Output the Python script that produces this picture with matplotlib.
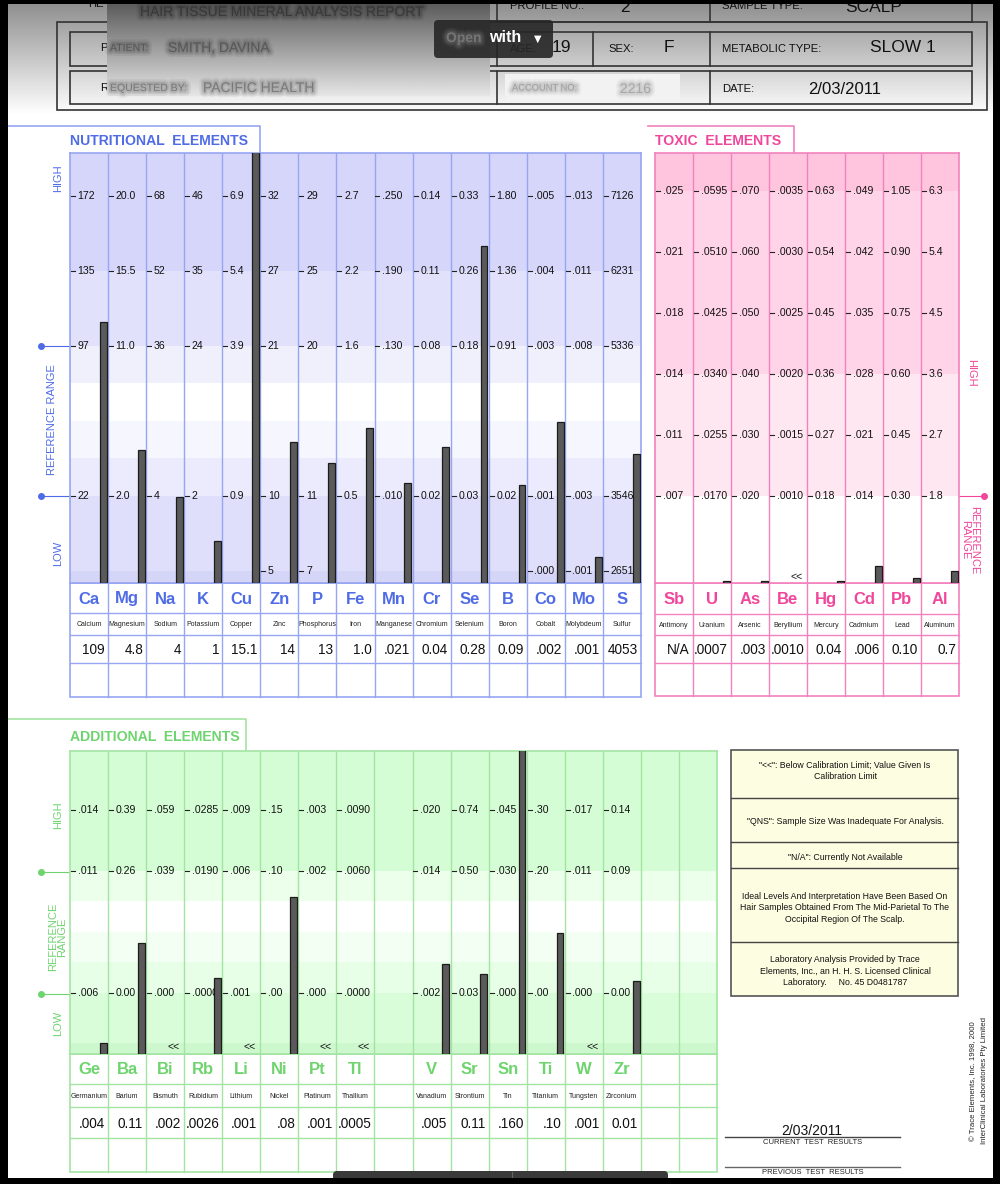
import numpy as np
import matplotlib
matplotlib.use('Agg')
import matplotlib.pyplot as plt
from matplotlib import font_manager
from matplotlib import patheffects as pe
from matplotlib.patches import Rectangle, FancyBboxPatch

W, H = 1000, 1184

# ---------------- data ----------------
nutr_symbols = ['Ca', 'Mg', 'Na', 'K', 'Cu', 'Zn', 'P', 'Fe', 'Mn', 'Cr', 'Se', 'B', 'Co', 'Mo', 'S']
nutr_names = ['Calcium', 'Magnesium', 'Sodium', 'Potassium', 'Copper', 'Zinc', 'Phosphorus', 'Iron',
              'Manganese', 'Chromium', 'Selenium', 'Boron', 'Cobalt', 'Molybdeum', 'Sulfur']
nutr_results = ['109', '4.8', '4', '1', '15.1', '14', '13', '1.0', '.021', '0.04', '0.28', '0.09',
                '.002', '.001', '4053']
# bar tops on the chart's level scale (level 1 = lower reference line, 3 = upper reference line)
nutr_bar_levels = [3.32, 1.61, 0.99, 0.40, 5.7, 1.72, 1.44, 1.91, 1.17, 1.65, 4.33, 1.15, 1.99, 0.19, 1.56]
nutr_tick_levels = [5, 4, 3, 1, 0]
nutr_tick_labels = [
    ['172', '135', '97', '22', None], ['20.0', '15.5', '11.0', '2.0', None], ['68', '52', '36', '4', None],
    ['46', '35', '24', '2', None], ['6.9', '5.4', '3.9', '0.9', None], ['32', '27', '21', '10', '5'],
    ['29', '25', '20', '11', '7'], ['2.7', '2.2', '1.6', '0.5', None], ['.250', '.190', '.130', '.010', None],
    ['0.14', '0.11', '0.08', '0.02', None], ['0.33', '0.26', '0.18', '0.03', None],
    ['1.80', '1.36', '0.91', '0.02', None], ['.005', '.004', '.003', '.001', '.000'],
    ['.013', '.011', '.008', '.003', '.001'], ['7126', '6231', '5336', '3546', '2651']]

tox_symbols = ['Sb', 'U', 'As', 'Be', 'Hg', 'Cd', 'Pb', 'Al']
tox_names = ['Antimony', 'Uranium', 'Arsenic', 'Beryllium', 'Mercury', 'Cadmium', 'Lead', 'Aluminum']
tox_results = ['N/A', '.0007', '.003', '.0010', '0.04', '.006', '0.10', '0.7']
tox_bar_levels = [None, -0.40, -0.40, None, -0.40, -0.15, -0.34, -0.23]
tox_below_cal = [False, False, False, True, False, False, False, False]
tox_tick_levels = [6, 5, 4, 3, 2, 1]
tox_tick_labels = [
    ['.025', '.021', '.018', '.014', '.011', '.007'], ['.0595', '.0510', '.0425', '.0340', '.0255', '.0170'],
    ['.070', '.060', '.050', '.040', '.030', '.020'], ['.0035', '.0030', '.0025', '.0020', '.0015', '.0010'],
    ['0.63', '0.54', '0.45', '0.36', '0.27', '0.18'], ['.049', '.042', '.035', '.028', '.021', '.014'],
    ['1.05', '0.90', '0.75', '0.60', '0.45', '0.30'], ['6.3', '5.4', '4.5', '3.6', '2.7', '1.8']]

add_symbols = ['Ge', 'Ba', 'Bi', 'Rb', 'Li', 'Ni', 'Pt', 'Tl', '', 'V', 'Sr', 'Sn', 'Ti', 'W', 'Zr', '', '']
add_names = ['Germanium', 'Barium', 'Bismuth', 'Rubidium', 'Lithium', 'Nickel', 'Platinum', 'Thallium', '',
             'Vanadium', 'Strontium', 'Tin', 'Titanium', 'Tungsten', 'Zirconium', '', '']
add_results = ['.004', '0.11', '.002', '.0026', '.001', '.08', '.001', '.0005', '', '.005', '0.11', '.160',
               '.10', '.001', '0.01', '', '']
add_bar_levels = [0.18, 1.82, None, 1.25, None, 2.57, None, None, None, 1.48, 1.31, 5.2, 1.98, None, 1.20,
                  None, None]
add_below_cal = [False, False, True, False, True, False, True, True, False, False, False, False, False,
                 True, False, False, False]
add_tick_levels = [4, 3, 1]
add_tick_labels = [
    ['.014', '.011', '.006'], ['0.39', '0.26', '0.00'], ['.059', '.039', '.000'], ['.0285', '.0190', '.0000'],
    ['.009', '.006', '.001'], ['.15', '.10', '.00'], ['.003', '.002', '.000'], ['.0090', '.0060', '.0000'],
    [None, None, None], ['.020', '.014', '.002'], ['0.74', '0.50', '0.03'], ['.045', '.030', '.000'],
    ['.30', '.20', '.00'], ['.017', '.011', '.000'], ['0.14', '0.09', '0.00'], [None, None, None],
    [None, None, None]]

legend_notes = ['"<<": Below Calibration Limit; Value Given Is\nCalibration Limit',
                '"QNS": Sample Size Was Inadequate For Analysis.',
                '"N/A": Currently Not Available',
                'Ideal Levels And Interpretation Have Been Based On\nHair Samples Obtained From The Mid-Parietal To The\nOccipital Region Of The Scalp.',
                'Laboratory Analysis Provided by Trace\nElements, Inc., an H. H. S. Licensed Clinical\nLaboratory.     No. 45 D0481787']

# ---------------- fonts ----------------
_names = {f.name for f in font_manager.fontManager.ttflist}
HAS_NARROW = 'Liberation Sans Narrow' in _names
NARROW = ['Liberation Sans Narrow', 'DejaVu Sans'] if HAS_NARROW else ['Liberation Sans', 'DejaVu Sans']
NS = 1.0 if HAS_NARROW else 0.84
SYM_SIZE = 13.5 if HAS_NARROW else 12
plt.rcParams['font.family'] = ['Liberation Sans', 'DejaVu Sans']

NUT_LINE, NUT_TXT = '#97a5f2', '#4f6ce6'
TOX_LINE, TOX_TXT = '#f282bd', '#f0469b'
ADD_LINE, ADD_TXT = '#a3e4a3', '#6ed46e'

fig = plt.figure(figsize=(10, 11.84), dpi=100)
ax0 = fig.add_axes([0, 0, 1, 1])
ax0.set_facecolor('white')


def inset(x0, y0, x1, y1):
    return fig.add_axes([x0 / W, 1 - y1 / H, (x1 - x0) / W, (y1 - y0) / H])


def panel(x0, x1, ytop, ybot, ncols, lo, hi, bands, line_c, bar_levels, tick_levels, tick_labels,
          below_cal, lt_level):
    ax = inset(x0, ytop, x1, ybot)
    ax.set_xlim(0, ncols)
    ax.set_ylim(lo, hi)
    ax.set_xticks([])
    ax.set_yticks([])
    ax.set_facecolor('white')
    for b0, b1, c in bands:
        ax.axhspan(b0, b1, color=c, lw=0, zorder=0)
    for i in range(1, ncols):
        ax.axvline(i, color=line_c, lw=1, zorder=1)
    for s in ax.spines.values():
        s.set_color(line_c)
        s.set_linewidth(1.2)
    for i, labs in enumerate(tick_labels):
        for lev, lab in zip(tick_levels, labs):
            if lab is None:
                continue
            ax.plot([i + 0.025, i + 0.13], [lev, lev], color='#222222', lw=0.8, zorder=2)
            ax.text(i + 0.2, lev, lab, ha='left', va='center', fontsize=7.6, color='#111111', zorder=2)
    idx = [i for i, v in enumerate(bar_levels) if v is not None]
    vals = np.array([bar_levels[i] for i in idx], dtype=float)
    ax.bar(np.array(idx) + 0.875, vals - lo, bottom=lo, width=0.18, color='#5a5a5a',
           edgecolor='#1c1c1c', lw=0.9, zorder=3)
    for i, b in enumerate(below_cal):
        if b:
            ax.text(i + 0.72, lt_level, '<<', ha='center', va='center', fontsize=7.5, color='#111111',
                    zorder=4)
    return ax


def table(x0, x1, ncols, rows, line_c, sym_c, symbols, names, results):
    cw = (x1 - x0) / ncols
    ax0.add_patch(Rectangle((x0, rows[0]), x1 - x0, rows[-1] - rows[0], fill=False, ec=line_c, lw=1.2))
    for y in rows[1:-1]:
        ax0.plot([x0, x1], [y, y], color=line_c, lw=1)
    for i in range(1, ncols):
        ax0.plot([x0 + i * cw] * 2, [rows[0], rows[-1]], color=line_c, lw=1)
    for i, (s, n, r) in enumerate(zip(symbols, names, results)):
        cx = x0 + (i + 0.5) * cw
        ax0.text(cx, (rows[0] + rows[1]) / 2 + 1, s, ha='center', va='center', fontsize=SYM_SIZE,
                 fontweight='bold', color=sym_c, family=NARROW)
        ax0.text(cx, (rows[1] + rows[2]) / 2 + 1, n, ha='center', va='center', fontsize=5.0, color='#222222')
        ax0.text(x0 + (i + 1) * cw - 3, (rows[2] + rows[3]) / 2 + 1, r, ha='right', va='center',
                 fontsize=9.8, color='#111111')


# ---------------- header ----------------
grad = np.linspace(0.55, 1.0, 200)[:, None]
ax0.imshow(grad, cmap='gray', vmin=0, vmax=1, extent=(0, W, 115, 0), aspect='auto', zorder=0)
hc = '#333333'
ax0.add_patch(Rectangle((57, 22), 930, 88, fill=False, ec=hc, lw=1.2, zorder=1))
ax0.add_patch(Rectangle((497, -6), 475, 28, fill=False, ec=hc, lw=1.2, zorder=1))
ax0.plot([710, 710], [-6, 22], color=hc, lw=1.2, zorder=1)
for (ya, yb, divs) in [(32, 66, [497, 593, 710]), (71, 104, [497, 710])]:
    ax0.add_patch(Rectangle((70, ya), 902, yb - ya, fill=False, ec=hc, lw=1.2, zorder=1))
    for d in divs:
        ax0.plot([d, d], [ya, yb], color=hc, lw=1.2, zorder=1)

lab_kw = dict(fontsize=9.7 * NS, family=NARROW, color='#111111', va='center', ha='left', zorder=2)
val_kw = dict(fontsize=12.5, color='#111111', va='center', ha='left', zorder=2)
ax0.text(510, 6, 'PROFILE NO.:', **lab_kw)
ax0.text(620, 7, '2', **val_kw)
ax0.text(722, 6, 'SAMPLE TYPE:', **lab_kw)
ax0.text(845, 7, 'SCALP', **val_kw)
ax0.text(510, 49, 'AGE:', **lab_kw)
ax0.text(552, 48, '19', **val_kw)
ax0.text(608, 49, 'SEX:', **lab_kw)
ax0.text(664, 48, 'F', **val_kw)
ax0.text(722, 49, 'METABOLIC TYPE:', **lab_kw)
ax0.text(870, 48, 'SLOW 1', **val_kw)
ax0.text(722, 89, 'DATE:', **lab_kw)
ax0.text(808, 89, '2/03/2011', **dict(val_kw, fontsize=12))
ax0.text(88, 4, 'HE', **lab_kw)
ax0.text(100, 48, 'P', **lab_kw)
ax0.text(100, 88, 'R', **lab_kw)


def blur_text(x, y, s, color, size, z=6.5, **kw):
    effects = [pe.Stroke(linewidth=7, foreground=color, alpha=0.07),
               pe.Stroke(linewidth=4.5, foreground=color, alpha=0.10),
               pe.Stroke(linewidth=2.5, foreground=color, alpha=0.12), pe.Normal()]
    ax0.text(x, y, s, color=color, fontsize=size, alpha=0.22, va='center', ha='left', zorder=z,
             path_effects=effects, **kw)


# blurred overlay
ov = np.linspace(0.36, 0.90, 200)[:, None]
ax0.imshow(ov, cmap='gray', vmin=0, vmax=1, extent=(107, 490, 96, 4), aspect='auto', zorder=6)
blur_text(140, 12, 'HAIR TISSUE MINERAL ANALYSIS REPORT', '#1a1a1a', 10, family=NARROW)
blur_text(110, 48, 'ATIENT:', '#2a2a2a', 9 * NS, family=NARROW)
blur_text(168, 48, 'SMITH, DAVINA', '#2a2a2a', 10, family=NARROW)
blur_text(110, 88, 'EQUESTED BY:', '#3a3a3a', 9 * NS, family=NARROW)
blur_text(203, 88, 'PACIFIC HEALTH', '#3a3a3a', 10, family=NARROW)
ax0.add_patch(Rectangle((505, 74), 175, 28, fc='#f2f2f2', ec='none', zorder=6))
blur_text(512, 88, 'ACCOUNT NO:', '#666666', 8 * NS, family=NARROW)
blur_text(620, 89, '2216', '#777777', 10)

ax0.add_patch(FancyBboxPatch((434, 20), 119, 38, boxstyle='round,pad=0,rounding_size=4', fc='#262626',
                             ec='none', alpha=0.9, zorder=7))
blur_text(446, 38, 'Open', '#aaaaaa', 10, z=7.5, fontweight='bold')
ax0.text(489, 37, 'with', color='white', fontsize=11.5, fontweight='bold', va='center', ha='left', zorder=8)
ax0.text(538, 39, '\u25BC', color='white', fontsize=7, va='center', ha='center', zorder=8,
         family=['DejaVu Sans'])

# ---------------- nutritional ----------------
ax0.plot([8, 260, 260], [126, 126, 153], color=NUT_LINE, lw=1.2)
ax0.text(70, 141, 'NUTRITIONAL  ELEMENTS', color=NUT_TXT, fontsize=12 * NS, fontweight='bold',
         family=NARROW, va='center', ha='left')
panel(70, 641, 153, 583, 15, -0.16, 5.573,
      [(-0.16, 0, '#d5d5f8'), (0, 1, '#dfdffb'), (1, 1.5, '#ebebfd'), (1.5, 2, '#f6f6fe'),
       (2, 2.5, '#ffffff'), (2.5, 3, '#f0f0fd'), (3, 4, '#e1e1fc'), (4, 5.6, '#d6d6fa')],
      NUT_LINE, nutr_bar_levels, nutr_tick_levels, nutr_tick_labels, [False] * 15, 0)
table(70, 641, 15, [583, 613, 635, 663, 697], NUT_LINE, NUT_TXT, nutr_symbols, nutr_names, nutr_results)
for y in (346, 496):
    ax0.plot([41, 70], [y, y], color=NUT_TXT, lw=0.8)
    ax0.plot(41, y, 'o', ms=4, color=NUT_TXT)
ax0.text(58, 178, 'HIGH', rotation=90, color=NUT_TXT, fontsize=8, ha='center', va='center')
ax0.text(52, 420, 'REFERENCE RANGE', rotation=90, color=NUT_TXT, fontsize=8, ha='center', va='center')
ax0.text(58, 553, 'LOW', rotation=90, color=NUT_TXT, fontsize=8, ha='center', va='center')

# ---------------- toxic ----------------
ax0.plot([648, 794, 794], [126, 126, 153], color=TOX_LINE, lw=1.2)
ax0.text(655, 141, 'TOXIC  ELEMENTS', color=TOX_TXT, fontsize=12 * NS, fontweight='bold',
         family=NARROW, va='center', ha='left')
panel(655, 959, 153, 583, 8, -0.426, 6.62,
      [(-0.43, 1, '#ffffff'), (1, 3, '#ffe7f2'), (3, 6, '#ffd3e8'), (6, 6.7, '#ffc5de')],
      TOX_LINE, tox_bar_levels, tox_tick_levels, tox_tick_labels, tox_below_cal, -0.33)
table(655, 959, 8, [583, 614, 635, 663, 696], TOX_LINE, TOX_TXT, tox_symbols, tox_names, tox_results)
ax0.plot([959, 984], [496, 496], color=TOX_TXT, lw=0.8)
ax0.plot(984, 496, 'o', ms=4, color=TOX_TXT)
ax0.text(971, 373, 'HIGH', rotation=-90, color=TOX_TXT, fontsize=8, ha='center', va='center')
ax0.text(970, 540, 'REFERENCE\nRANGE', rotation=-90, color=TOX_TXT, fontsize=8, ha='center', va='center',
         linespacing=0.85)

# ---------------- additional ----------------
ax0.plot([8, 246, 246], [719, 719, 751], color=ADD_LINE, lw=1.2)
ax0.text(70, 737, 'ADDITIONAL  ELEMENTS', color=ADD_TXT, fontsize=12 * NS, fontweight='bold',
         family=NARROW, va='center', ha='left')
panel(70, 717, 751, 1054, 17, 0, 4.967,
      [(0, 0.18, '#cdf8cd'), (0.18, 1, '#d9fdd9'), (1, 1.5, '#e7ffe7'), (1.5, 2, '#f4fff4'),
       (2, 2.5, '#ffffff'), (2.5, 3, '#ebffeb'), (3, 5, '#d5fdd5')],
      ADD_LINE, add_bar_levels, add_tick_levels, add_tick_labels, add_below_cal, 0.11)
table(70, 717, 17, [1054, 1084, 1107, 1138, 1172], ADD_LINE, ADD_TXT, add_symbols, add_names, add_results)
for y in (872, 994):
    ax0.plot([41, 70], [y, y], color=ADD_TXT, lw=0.8)
    ax0.plot(41, y, 'o', ms=4, color=ADD_TXT)
ax0.text(58, 815, 'HIGH', rotation=90, color=ADD_TXT, fontsize=8, ha='center', va='center')
ax0.text(58, 937, 'REFERENCE\nRANGE', rotation=90, color=ADD_TXT, fontsize=8, ha='center', va='center',
         linespacing=0.85)
ax0.text(58, 1023, 'LOW', rotation=90, color=ADD_TXT, fontsize=8, ha='center', va='center')

# ---------------- legend box ----------------
ax0.add_patch(Rectangle((731, 750), 227, 246, fc='#fdfde1', ec='#555555', lw=1.2))
for y in (798, 842, 868, 942):
    ax0.plot([731, 958], [y, y], color='#444444', lw=1)
for yc, note in zip([771, 821, 857, 908, 971], legend_notes):
    ax0.text(845, yc, note, ha='center', va='center', fontsize=6.3, color='#111111', linespacing=1.35)

# ---------------- bottom right ----------------
ax0.text(812, 1131, '2/03/2011', ha='center', va='center', fontsize=10, color='#111111')
ax0.plot([725, 900], [1137, 1137], color='#444444', lw=1)
ax0.text(813, 1143, 'CURRENT  TEST  RESULTS', ha='center', va='center', fontsize=5.5, color='#222222')
ax0.plot([725, 900], [1167, 1167], color='#666666', lw=1)
ax0.text(813, 1173, 'PREVIOUS  TEST  RESULTS', ha='center', va='center', fontsize=5.5, color='#222222')
ax0.text(974, 1081, '\u00A9 Trace Elements, Inc. 1998, 2000', rotation=90, ha='center', va='center',
         fontsize=5.6, color='#222222')
ax0.text(985, 1081, 'InterClinical Laboratories Pty Limited', rotation=90, ha='center', va='center',
         fontsize=5.6, color='#222222')

# ---------------- screen frame ----------------
ax0.add_patch(FancyBboxPatch((333, 1171), 335, 12, boxstyle='round,pad=0,rounding_size=4', fc='#3a3a3a',
                             ec='none', zorder=9))
ax0.plot([512, 512], [1172, 1178], color='#666666', lw=0.8, zorder=9.5)
for (rx, ry, rw, rh) in [(0, 0, 7.5, H), (993, 0, 7, H), (0, 0, W, 4), (0, 1178, W, 6)]:
    ax0.add_patch(Rectangle((rx, ry), rw, rh, fc='black', ec='none', zorder=10))

ax0.set_xlim(0, W)
ax0.set_ylim(H, 0)
ax0.axis('off')

fig.savefig('out.png', dpi=100)
